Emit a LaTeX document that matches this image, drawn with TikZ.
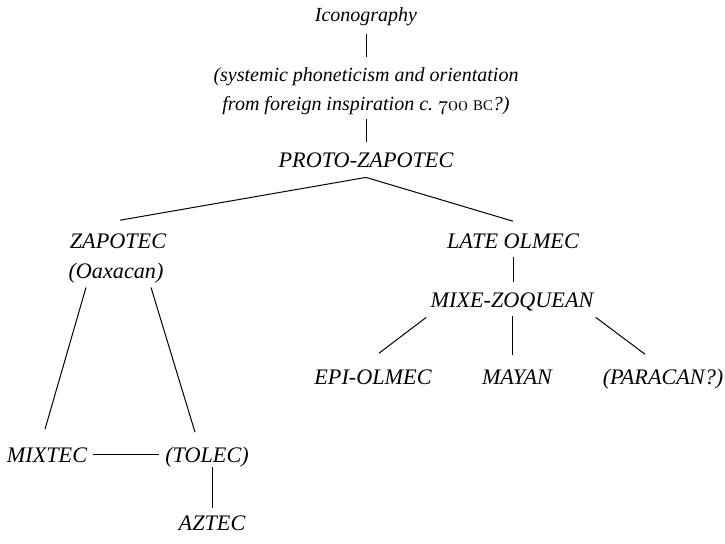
\documentclass[tikz,border=0pt]{standalone}
\usepackage{fontspec}
\newfontfamily\capfont{Liberation Serif}
\begin{document}
\begin{tikzpicture}[x=0.5pt,y=-0.5pt,
  lbl/.style={font=\capfont\itshape\fontsize{11.1}{13}\selectfont,
              inner sep=0pt, text height=7.2pt, text depth=0pt, anchor=base},
  note/.style={font=\capfont\itshape\fontsize{10}{14.5}\selectfont,
               inner sep=0pt, align=center},
  link/.style={line width=0.5pt}]
\useasboundingbox (0,0) rectangle (725,543);

% upper chain
\node[note, anchor=base] (icon) at (366,21) {Iconography};
\node[note, anchor=north] (desc) at (366,67)
  {(systemic phoneticism and orientation\\
   from foreign inspiration c.\ $\mathnormal{700}$ {\upshape\fontsize{7.4}{9}\selectfont BC}?)};
\node[lbl] (proto) at (366,167) {PROTO-ZAPOTEC};

% western branch
\node[lbl] (zap) at (118,248) {ZAPOTEC};
\node[lbl] (oax) at (116,278) {(Oaxacan)};
\node[lbl] (mixtec) at (47,462) {MIXTEC};
\node[lbl] (tolec) at (207,462) {(TOLEC)};
\node[lbl] (aztec) at (212,530) {AZTEC};

% eastern branch
\node[lbl] (late) at (513,248) {LATE OLMEC};
\node[lbl] (mixe) at (512,307) {MIXE-ZOQUEAN};
\node[lbl] (epi) at (373,384) {EPI-OLMEC};
\node[lbl] (maya) at (517,384) {MAYAN};
\node[lbl] (para) at (663,384) {(PARACAN?)};

% connectors
\draw[link] ([yshift=-6.5pt]icon.base) -- ([yshift=5pt]desc.north);
\draw[link] ([yshift=-2pt]desc.south) -- ([yshift=5pt]proto.north);
\draw[link] ([yshift=-5pt]proto.south) -- ([shift={(1pt,6.5pt)}]zap.north);
\draw[link] ([yshift=-5pt]proto.south) -- ([yshift=6pt]late.north);
\draw[link] ([shift={(-15pt,-4.5pt)}]oax.south) -- ([shift={(-1pt,9pt)}]mixtec.north);
\draw[link] ([shift={(17.5pt,-4.5pt)}]oax.south) -- ([shift={(-6pt,7.5pt)}]tolec.north);
\draw[link] ([xshift=3pt]mixtec.east) -- ([xshift=-3pt]tolec.west);
\draw[link] ([yshift=3.5pt]aztec.north) -- ([yshift=-2.5pt]aztec.north |- tolec.south);
\draw[link] ([yshift=-4.5pt]late.south) -- ([yshift=5pt]late.south |- mixe.north);
\draw[link] ([shift={(-2pt,-5pt)}]mixe.south west) -- ([shift={(3pt,8pt)}]epi.north);
\draw[link] ([yshift=-4.5pt]mixe.south) -- ([yshift=7pt]mixe.south |- maya.north);
\draw[link] ([shift={(1pt,-5pt)}]mixe.south east) -- ([shift={(-9pt,7.5pt)}]para.north);
\end{tikzpicture}
\end{document}
